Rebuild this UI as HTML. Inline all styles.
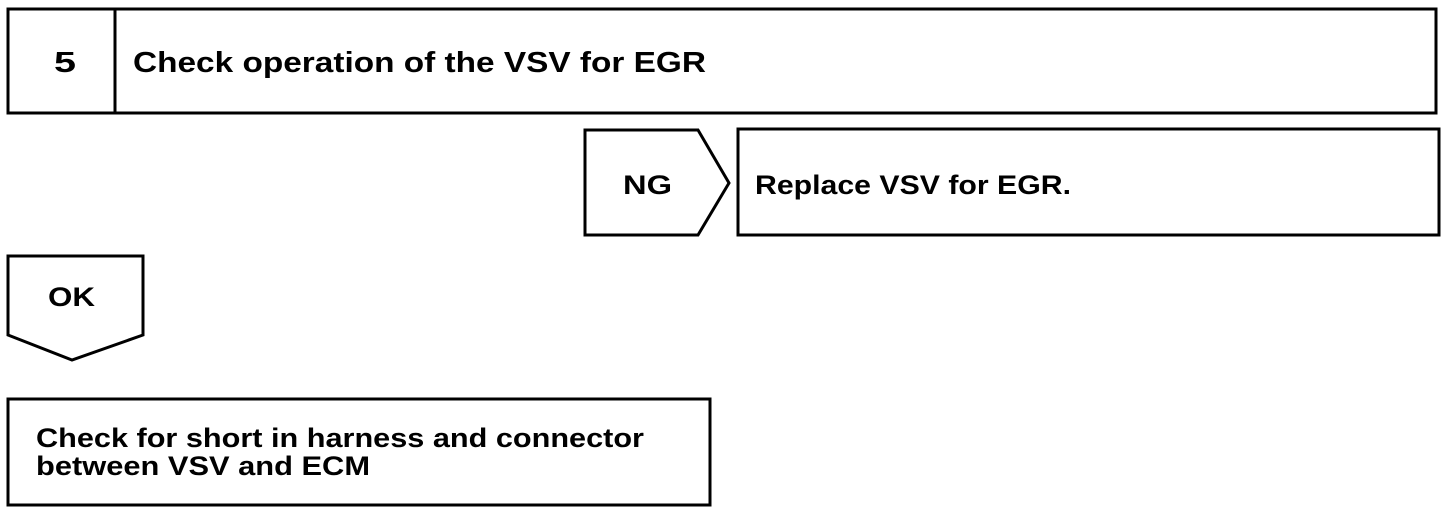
<!DOCTYPE html>
<html><head><style>
body{margin:0;background:#fff;width:1456px;height:512px;overflow:hidden}
svg text{font-family:"Liberation Sans",sans-serif;font-weight:bold;fill:#000}
</style></head><body>
<svg width="1456" height="512" viewBox="0 0 1456 512">
<g fill="none" stroke="#000" stroke-width="3">
<rect x="8" y="9" width="1428" height="104"/>
<line x1="115" y1="9" x2="115" y2="113"/>
<polygon points="585,130 698,130 729,183 698,235 585,235"/>
<rect x="738" y="129" width="701" height="106"/>
<polygon points="8,256 143,256 143,335 72,360 8,335"/>
<rect x="8" y="399" width="702" height="106"/>
</g>
<text x="54" y="72" font-size="29" textLength="22" lengthAdjust="spacingAndGlyphs">5</text>
<text x="133" y="72" font-size="29" textLength="573" lengthAdjust="spacingAndGlyphs">Check operation of the VSV for EGR</text>
<text x="623" y="194" font-size="27" textLength="49" lengthAdjust="spacingAndGlyphs">NG</text>
<text x="755" y="194" font-size="27" textLength="316" lengthAdjust="spacingAndGlyphs">Replace VSV for EGR.</text>
<text x="48" y="306" font-size="27" textLength="47" lengthAdjust="spacingAndGlyphs">OK</text>
<text x="36" y="447" font-size="27" textLength="608" lengthAdjust="spacingAndGlyphs">Check for short in harness and connector</text>
<text x="36" y="475" font-size="27" textLength="334" lengthAdjust="spacingAndGlyphs">between VSV and ECM</text>
</svg>
</body></html>
